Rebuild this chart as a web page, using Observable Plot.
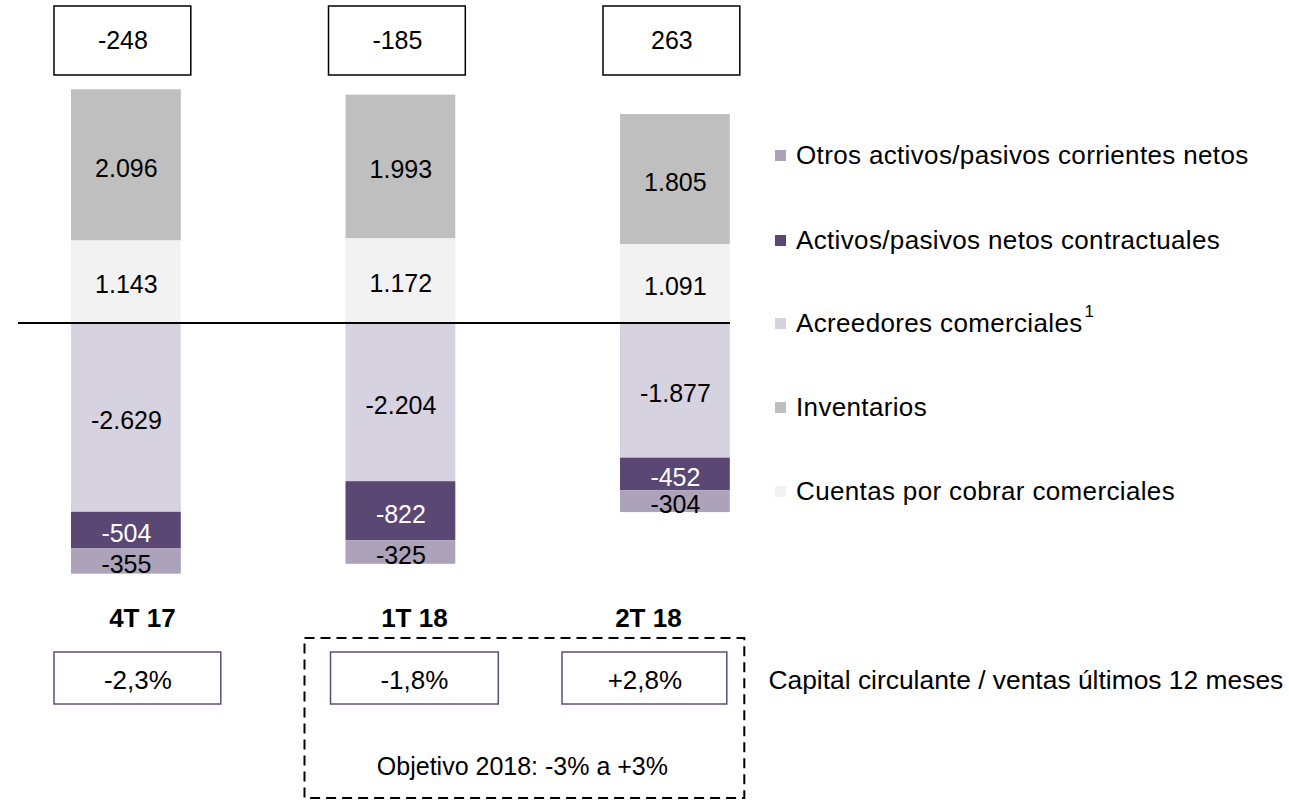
<!DOCTYPE html>
<html>
<head>
<meta charset="utf-8">
<script src="https://cdn.jsdelivr.net/npm/d3@7"></script>
<script src="https://cdn.jsdelivr.net/npm/@observablehq/plot@0.6"></script>
<style>
  html, body { margin: 0; padding: 0; background: #fff; }
  #wrap { position: relative; width: 1289px; height: 803px; font-family: "Liberation Sans", Arial, sans-serif; color: #000; }
  #wrap svg { position: absolute; left: 0; top: 0; }
  .lg { position: absolute; left: 775px; height: 30px; line-height: 30px; font-size: 26px; letter-spacing: 0.35px; white-space: nowrap; }
  .lg .sw { display: inline-block; width: 11px; height: 11px; margin-right: 10px; vertical-align: middle; position: relative; top: -2px; }
  .lg sup { font-size: 17px; position: relative; top: -5px; vertical-align: top; line-height: 17px; margin-left: 2px; }
</style>
</head>
<body>
<div id="wrap"></div>
<script>
// ---------- data ----------
const quarters = ["4T 17", "1T 18", "2T 18"];
const cuentasPorCobrar = [1143, 1172, 1091];
const inventarios = [2096, 1993, 1805];
const acreedores = [-2629, -2204, -1877];
const contractuales = [-504, -822, -452];
const otros = [-355, -325, -304];
const totals = [-248, -185, 263];
const ratios = ["-2,3%", "-1,8%", "+2,8%"];

const seriesNames = [
  "Cuentas por cobrar comerciales",
  "Inventarios",
  "Acreedores comerciales",
  "Activos/pasivos netos contractuales",
  "Otros activos/pasivos corrientes netos"
];
const seriesValues = [cuentasPorCobrar, inventarios, acreedores, contractuales, otros];
const seriesColors = ["#f2f2f2", "#bfbfbf", "#d7d2df", "#5b4774", "#aca2b9"];
const darkSeries = "Activos/pasivos netos contractuales";

// ---------- layout ----------
const W = 1289, H = 803;
const ZERO_PX = 322.5, K = 0.072;           // pixels per unit
const toY = px => (ZERO_PX - px) / K;       // pixel row -> data value
const yDomain = [toY(H), toY(0)];

const rows = [];
seriesNames.forEach((s, si) => quarters.forEach((q, qi) =>
  rows.push({quarter: q, series: s, value: seriesValues[si][qi]})));
const qRows = quarters.map((q, i) => ({quarter: q, total: totals[i], ratio: ratios[i]}));

const fmt = n => (n < 0 ? "-" : "") + String(Math.abs(n)).replace(/\B(?=(\d{3})+(?!\d))/g, ".");

// bottom annotation layout (per quarter)
const labelDx = [16, 13.5, -27];
const boxInsetL = [-17, -15, -58];
const boxInsetR = [-40, -43, 3];
const boxTextDx = [11.5, 13.5, -30.5];

const marks = [
  Plot.barY(rows, {x: "quarter", y: "value", fill: "series"}),
  Plot.text(rows, Plot.stackY({x: "quarter", y: "value",
    text: d => d.series === darkSeries ? "" : fmt(d.value), fill: "black", fontSize: 25, dy: 3.5})),
  Plot.text(rows, Plot.stackY({x: "quarter", y: "value",
    text: d => d.series === darkSeries ? fmt(d.value) : "", fill: "white", fontSize: 25, dy: 3.5})),
  Plot.ruleY([0], {stroke: "black", strokeWidth: 2}),
  // total boxes on top
  Plot.barY(qRows, {x: "quarter", y1: toY(6), y2: toY(75), fill: "white", stroke: "black",
    strokeWidth: 1.5, insetLeft: -17, insetRight: -10}),
  Plot.text(qRows, {x: "quarter", y: toY(40), text: d => fmt(d.total), fontSize: 25, dx: -3.5, fill: "black"}),
  // dashed target frame
  Plot.barY([quarters[1]], {x: d => d, y1: toY(638), y2: toY(798), fill: "none", stroke: "black",
    strokeWidth: 2, strokeDasharray: "10,6", insetLeft: -41, insetRight: -289}),
  Plot.text([quarters[1]], {x: d => d, y: toY(766), text: () => "Objetivo 2018: -3% a +3%", fontSize: 25, dx: 121.5, fill: "black"}),
  Plot.text([quarters[2]], {x: d => d, y: toY(680), text: () => "Capital circulante / ventas últimos 12 meses",
    fontSize: 26.4, dx: 93, textAnchor: "start", fill: "black"})
];
quarters.forEach((q, i) => {
  marks.push(Plot.text([qRows[i]], {x: "quarter", y: toY(618), text: "quarter", fontSize: 26,
    fontWeight: "bold", dx: labelDx[i], fill: "black"}));
  marks.push(Plot.barY([qRows[i]], {x: "quarter", y1: toY(652), y2: toY(704), fill: "white",
    stroke: "#5f4b7b", strokeWidth: 1.5, insetLeft: boxInsetL[i], insetRight: boxInsetR[i]}));
  marks.push(Plot.text([qRows[i]], {x: "quarter", y: toY(680), text: "ratio", fontSize: 26,
    dx: boxTextDx[i], fill: "black"}));
});

const chart = Plot.plot({
  width: W, height: H,
  marginLeft: 18, marginRight: W - 730, marginTop: 0, marginBottom: 0,
  x: {type: "band", domain: quarters, range: [16.1, 784.7], paddingInner: 0.6, paddingOuter: 0.2, round: false, axis: null},
  y: {domain: yDomain, range: [H, 0], axis: null},
  color: {domain: seriesNames, range: seriesColors},
  style: {fontFamily: '"Liberation Sans", Arial, sans-serif', background: "white", overflow: "visible"},
  marks
});
const wrap = document.getElementById("wrap");
wrap.appendChild(chart);

// legend (top to bottom)
const legendOrder = [4, 3, 2, 1, 0];
const legendRows = [155, 240, 323, 407, 491];
legendOrder.forEach((si, r) => {
  const d = document.createElement("div");
  d.className = "lg";
  d.style.top = (legendRows[r] - 15) + "px";
  const sw = document.createElement("span");
  sw.className = "sw";
  sw.style.background = seriesColors[si];
  d.appendChild(sw);
  d.appendChild(document.createTextNode(seriesNames[si]));
  if (seriesNames[si] === "Acreedores comerciales") {
    const s = document.createElement("sup");
    s.textContent = "1";
    d.appendChild(s);
  }
  wrap.appendChild(d);
});
</script>
</body>
</html>
